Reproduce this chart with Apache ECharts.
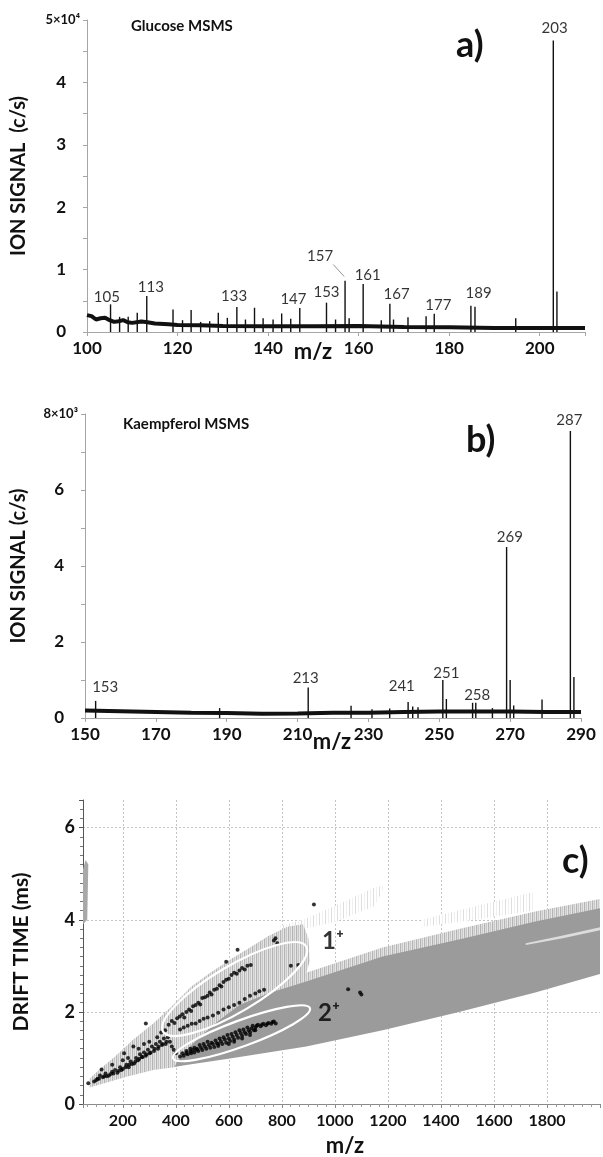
<!DOCTYPE html>
<html>
<head>
<meta charset="utf-8">
<script src="https://cdn.jsdelivr.net/npm/echarts@6/dist/echarts.min.js"></script>
<style>
html, body { margin: 0; padding: 0; background: #fff; }
#chart { width: 603px; height: 1157px; }
</style>
</head>
<body>
<div id="chart"></div>
<script>
// ---------- a) Glucose MSMS ----------
var glucosePeaks = [
  [105.2, 4430], [107.2, 2430], [109.1, 2430], [111.1, 3080], [113.2, 5780],
  [119.0, 3620], [121.1, 1900], [123.0, 3510], [125.1, 1620], [127.1, 1730],
  [129.0, 3080], [131.0, 2270], [133.1, 4000], [135.0, 2000], [137.0, 3890],
  [138.9, 2220], [141.1, 2000], [143.0, 2970], [145.0, 2110], [147.0, 3840],
  [152.9, 4700], [154.9, 2000], [157.0, 8220], [157.9, 2200], [161.0, 7680],
  [165.0, 1900], [166.9, 4540], [167.7, 2000], [170.9, 2380], [174.9, 2540],
  [176.7, 2920], [184.8, 4220], [185.7, 4050], [194.7, 2220], [203.0, 46700],
  [203.8, 6490]
];
var glucoseBase = [
  [100, 2700], [101, 2540], [102, 2000], [103, 2200], [104, 2300], [105, 1900],
  [106, 1620], [107, 1730], [108, 1900], [109, 1570], [110, 1460], [112, 1680],
  [113, 1600], [115, 1350], [118, 1240], [120, 1130], [125, 1080], [130, 970],
  [140, 920], [150, 920], [160, 970], [170, 810], [180, 760], [190, 650],
  [200, 650], [210, 650]
];
var glucoseTags = [
  [104.4, 5570, '105'], [114.1, 7140, '113'], [132.5, 5780, '133'],
  [145.6, 5240, '147'], [152.9, 6320, '153'], [151.5, 12160, '157'],
  [162.0, 9030, '161'], [168.4, 6110, '167'], [177.6, 4320, '177'],
  [186.5, 6220, '189'], [203.3, 48700, '203']
];
var glucoseLeader = [[154.4, 10810, 156.8, 8900]];

// ---------- b) Kaempferol MSMS ----------
var kaempPeaks = [
  [153.0, 450], [188.0, 260], [213.0, 800], [225.1, 320], [231.0, 230],
  [236.0, 250], [241.2, 420], [242.5, 300], [244.0, 280], [251.0, 1000],
  [252.0, 500], [259.4, 400], [260.3, 400], [265.0, 260], [269.0, 4500],
  [270.0, 1000], [271.0, 330], [279.0, 490], [287.0, 7550], [288.0, 1080]
];
var kaempBase = [
  [150, 200], [160, 180], [170, 160], [180, 140], [190, 130], [200, 110],
  [210, 120], [220, 140], [230, 140], [240, 160], [250, 170], [260, 170],
  [270, 170], [280, 160], [290, 160]
];
var kaempTags = [
  [155.7, 820, '153'], [212.3, 1050, '213'], [239.4, 850, '241'],
  [252.0, 1180, '251'], [260.7, 600, '258'], [269.9, 4760, '269'],
  [286.7, 7850, '287']
];

// ---------- c) drift time vs m/z ----------
var band1plus = [
  [75, 0.36], [214, 0.59], [315, 0.74], [395, 0.8], [500, 0.95], [600, 1.3],
  [700, 1.8], [800, 2.3], [880, 2.6], [905, 3.1], [900, 3.6], [880, 3.9],
  [820, 3.85], [748, 3.64], [680, 3.4], [604, 3.13], [530, 2.85], [459, 2.55],
  [390, 2.15], [315, 1.75], [240, 1.4], [171, 1.03], [110, 0.74], [75, 0.55]
];
var band2halo = [
  [700, 2.3], [892, 2.85], [1180, 3.4], [1468, 3.8], [1756, 4.18], [2000, 4.45],
  [2000, 4.0], [1756, 3.7], [1468, 3.3], [1180, 2.9], [892, 2.4], [700, 2.1]
];
var band2plus = [
  [395, 0.81], [604, 0.99], [892, 1.25], [1180, 1.6], [1468, 2.0], [1756, 2.42],
  [2000, 2.82], [2000, 4.25], [1756, 3.96], [1468, 3.57], [1180, 3.2], [892, 2.66],
  [748, 2.4], [640, 2.15], [560, 1.8], [480, 1.4], [420, 1.05]
];
var bandGap = [
  [1720, 3.45], [1860, 3.6], [2000, 3.77], [2000, 3.84], [1860, 3.66], [1720, 3.49]
];
var faintStreaks1 = [
  [780, 3.85], [880, 4.0], [1000, 4.3], [1150, 4.7], [1190, 4.75],
  [1150, 4.3], [1000, 3.95], [860, 3.78]
];
var faintStreaks2 = [
  [1330, 4.0], [1500, 4.25], [1750, 4.6], [1750, 4.2], [1500, 3.98], [1330, 3.85]
];
var edgeBlob = [[50, 3.9], [66, 4.0], [70, 5.2], [60, 5.3], [50, 5.1]];

var dotsLow = [
  [70, 0.45], [92, 0.49], [105, 0.55], [114, 0.62], [125, 0.58], [135, 0.66],
  [148, 0.62], [160, 0.7], [171, 0.74], [180, 0.68], [190, 0.8], [200, 0.76],
  [214, 0.85], [222, 0.8], [230, 0.92], [243, 0.88], [250, 1.0], [258, 0.95],
  [265, 1.08], [272, 1.02], [280, 1.12], [287, 1.05], [295, 1.18], [302, 1.1],
  [310, 1.25], [318, 1.15], [325, 1.3], [333, 1.2], [340, 1.35], [348, 1.28],
  [355, 1.42], [362, 1.3], [370, 1.45], [378, 1.35], [385, 1.25], [392, 1.18],
  [400, 1.1], [287, 1.75], [240, 1.25], [205, 1.1], [160, 0.85], [120, 0.75],
  [100, 0.52], [110, 0.55], [130, 0.6], [140, 0.6], [155, 0.65], [165, 0.66],
  [185, 0.72], [195, 0.74], [210, 0.8], [225, 0.85], [235, 0.87], [248, 0.92],
  [262, 0.98], [275, 1.02], [290, 1.08], [305, 1.12], [320, 1.2], [335, 1.25],
  [350, 1.3], [365, 1.35], [300, 1.35], [330, 1.45], [345, 1.55], [360, 1.6],
  [260, 1.2], [280, 1.3], [220, 1.0], [200, 0.95]
];
var dots1plus = [
  [373, 1.72], [385, 1.8], [395, 1.76], [405, 1.86], [415, 1.9], [425, 1.95],
  [432, 1.88], [440, 2.0], [450, 2.05], [458, 2.02], [465, 2.12], [475, 2.15],
  [485, 2.2], [492, 2.16], [500, 2.3], [510, 2.32], [520, 2.35], [528, 2.42],
  [535, 2.38], [545, 2.48], [555, 2.5], [565, 2.58], [572, 2.55], [580, 2.65],
  [590, 2.7], [600, 2.72], [610, 2.8], [620, 2.85], [630, 2.83], [640, 2.9],
  [650, 2.95], [660, 2.92], [670, 3.0], [683, 3.02],
  [416, 1.62], [430, 1.66], [445, 1.7], [460, 1.74], [475, 1.75], [490, 1.8],
  [505, 1.85], [520, 1.88], [540, 1.92], [560, 1.98], [580, 2.05], [600, 2.1],
  [620, 2.15], [640, 2.2], [660, 2.28], [680, 2.35], [700, 2.4], [715, 2.45],
  [733, 2.48],
  [590, 3.09], [633, 3.35], [776, 3.6], [783, 3.49], [770, 3.55], [834, 3.0],
  [862, 3.02], [921, 4.33], [1050, 2.49], [1100, 2.38], [1095, 2.42]
];
var dots2plus = [
  [416, 1.03], [430, 1.05], [445, 1.08], [458, 1.1], [470, 1.12], [485, 1.15],
  [500, 1.17], [515, 1.2], [530, 1.22], [545, 1.24], [560, 1.26], [575, 1.3],
  [590, 1.33], [605, 1.37], [620, 1.4], [635, 1.44], [650, 1.48], [665, 1.52],
  [680, 1.56], [695, 1.6],
  [440, 1.15], [455, 1.2], [470, 1.22], [490, 1.28], [505, 1.3], [520, 1.35],
  [535, 1.33], [550, 1.38], [565, 1.42], [580, 1.45], [595, 1.5], [610, 1.52],
  [625, 1.56], [640, 1.6], [655, 1.62], [670, 1.66], [690, 1.7], [710, 1.72],
  [730, 1.74], [750, 1.76], [765, 1.78], [777, 1.75],
  [480, 1.2], [525, 1.28], [570, 1.36], [615, 1.46], [660, 1.56], [700, 1.66],
  [720, 1.69], [740, 1.71],
  [425, 1.1], [440, 1.1], [455, 1.14], [465, 1.17], [478, 1.18], [495, 1.22],
  [510, 1.25], [540, 1.3], [555, 1.32], [585, 1.4], [600, 1.42], [630, 1.5],
  [645, 1.54], [675, 1.6], [685, 1.64], [705, 1.7], [725, 1.72], [745, 1.74],
  [760, 1.74], [770, 1.79], [600, 1.3], [620, 1.35], [560, 1.3], [650, 1.42],
  [680, 1.5], [700, 1.6]
];
var chargeRings = [[352, 1.57, 892, 3.42], [390, 0.99, 906, 2.08]];
var chargeTags = [[993, 3.53, '1⁺'], [978, 1.97, '2⁺']];

// ---------- helpers ----------
var FONT = 'Lato';
var chart = echarts.init(document.getElementById('chart'));

var streak = document.createElement('canvas');
streak.width = 4; streak.height = 2;
var sc = streak.getContext('2d');
['#b4b4b4', '#dcdcdc', '#c8c8c8', '#e6e6e6'].forEach(function (c, i) {
  sc.fillStyle = c; sc.fillRect(i, 0, 1, 2);
});
var faint = document.createElement('canvas');
faint.width = 6; faint.height = 2;
var fc = faint.getContext('2d');
fc.fillStyle = '#ffffff'; fc.fillRect(0, 0, 6, 2);
fc.fillStyle = '#dedede'; fc.fillRect(1, 0, 1, 2);
fc.fillStyle = '#f0f0f0'; fc.fillRect(4, 0, 1, 2);

function sticks(idx, data) {
  return {
    type: 'custom', xAxisIndex: idx, yAxisIndex: idx, silent: true, z: 3,
    data: data,
    renderItem: function (params, api) {
      var top = api.coord([api.value(0), api.value(1)]);
      var bot = api.coord([api.value(0), 0]);
      return {
        type: 'line',
        shape: { x1: top[0], y1: top[1], x2: bot[0], y2: bot[1] },
        style: { stroke: '#111', lineWidth: 1.4 }
      };
    }
  };
}
function baseline(idx, data) {
  return {
    type: 'line', xAxisIndex: idx, yAxisIndex: idx, data: data, silent: true,
    showSymbol: false, z: 4,
    lineStyle: { color: '#111', width: 4 }
  };
}
function tags(idx, data, size) {
  return {
    type: 'scatter', xAxisIndex: idx, yAxisIndex: idx, silent: true,
    symbolSize: 0, z: 6,
    data: data.map(function (t) { return { value: [t[0], t[1]], name: t[2] }; }),
    label: {
      show: true, position: 'inside', formatter: '{b}',
      color: '#000', fontSize: size, fontFamily: FONT
    }
  };
}
function poly(points, fill) {
  return {
    type: 'custom', xAxisIndex: 2, yAxisIndex: 2, silent: true, z: 1,
    data: [points[0]],
    renderItem: function (params, api) {
      return {
        type: 'polygon',
        shape: { points: points.map(function (p) { return api.coord(p); }) },
        style: { fill: fill, stroke: null }
      };
    }
  };
}

function valueAxis(grid, min, max, interval, fmt, opts) {
  var ax = {
    type: 'value', gridIndex: grid, min: min, max: max, interval: interval,
    axisLine: { show: true, lineStyle: { color: '#a6a6a6', width: 1 } },
    axisTick: { show: true, length: 4, lineStyle: { color: '#a6a6a6' } },
    splitLine: { show: false },
    axisLabel: {
      formatter: fmt, color: '#111', fontFamily: FONT, fontWeight: 'bold',
      fontSize: 17, margin: 8
    }
  };
  return Object.assign(ax, opts || {});
}

var option = {
  animation: false,
  backgroundColor: '#fff',
  textStyle: { fontFamily: FONT },
  grid: [
    { left: 87, top: 20, width: 498, height: 312 },
    { left: 85, top: 414, width: 496, height: 304 },
    { left: 83, top: 800, right: 0, height: 304 }
  ],
  xAxis: [
    valueAxis(0, 100, 210, 20, function (v) { return v > 200 ? '' : String(v); }),
    valueAxis(1, 150, 290, 20, function (v) { return String(v); }),
    {
      type: 'value', gridIndex: 2, min: 50, max: 2000, splitNumber: 10,
      axisLine: { show: true, lineStyle: { color: '#8a8a8a', width: 1 } },
      axisTick: { show: true, length: 4, lineStyle: { color: '#8a8a8a' } },
      minorTick: { show: true, splitNumber: 6, length: 3, lineStyle: { color: '#9a9a9a' } },
      splitLine: {
        show: true, showMinLine: false, showMaxLine: false,
        lineStyle: { color: '#c4c4c4', type: [2, 2], width: 1 }
      },
      axisLabel: {
        formatter: function (v) { return (v < 200 || v > 1800) ? '' : String(v); },
        color: '#111', fontFamily: FONT, fontWeight: 'bold', fontSize: 16, margin: 9
      }
    }
  ],
  yAxis: [
    valueAxis(0, 0, 50000, 5000, function (v) {
      if (v === 50000) return '{s|5×10⁴}';
      return v % 10000 === 0 ? '{d|' + (v / 10000) + '}' : '';
    }, {
      name: 'ION SIGNAL  (c/s)', nameLocation: 'middle', nameGap: 58,
      nameTextStyle: { fontSize: 20, fontWeight: 'bold', color: '#111', fontFamily: FONT }
    }),
    valueAxis(1, 0, 8000, 1000, function (v) {
      if (v === 8000) return '{s|8×10³}';
      return v % 2000 === 0 ? '{d|' + (v / 1000) + '}' : '';
    }, {
      name: 'ION SIGNAL (c/s)', nameLocation: 'middle', nameGap: 56,
      nameTextStyle: { fontSize: 20, fontWeight: 'bold', color: '#111', fontFamily: FONT }
    }),
    {
      type: 'value', gridIndex: 2, min: 0, max: 6.6, interval: 2,
      name: 'DRIFT TIME (ms)', nameLocation: 'middle', nameGap: 51,
      nameTextStyle: { fontSize: 21, fontWeight: 'bold', color: '#111', fontFamily: FONT },
      axisLine: { show: true, lineStyle: { color: '#555', width: 1 } },
      axisTick: { show: true, length: 4, lineStyle: { color: '#555' } },
      minorTick: { show: true, splitNumber: 10, length: 3, lineStyle: { color: '#777' } },
      splitLine: {
        show: true, showMinLine: false, showMaxLine: false,
        lineStyle: { color: '#c4c4c4', type: [2, 2], width: 1 }
      },
      axisLabel: {
        formatter: function (v) { return v > 6 ? '' : String(v); },
        color: '#111', fontFamily: FONT, fontWeight: 'bold', fontSize: 18, margin: 8
      }
    }
  ],
  graphic: [
    { type: 'text', left: 131, top: 19, style: { text: 'Glucose MSMS', font: 'bold 15px Lato', fill: '#111' } },
    { type: 'text', left: 456, top: 27, style: { text: 'a)', font: 'bold 36px Lato', fill: '#111' } },
    { type: 'text', left: 123, top: 417, style: { text: 'Kaempferol MSMS', font: 'bold 15px Lato', fill: '#111' } },
    { type: 'text', left: 466, top: 422, style: { text: 'b)', font: 'bold 36px Lato', fill: '#111' } },
    { type: 'text', left: 562, top: 843, style: { text: 'c)', font: 'bold 36px Lato', fill: '#111' } },
    { type: 'text', x: 313, y: 352, style: { text: 'm/z', font: 'bold 22px Lato', fill: '#111', align: 'center', verticalAlign: 'middle' } },
    { type: 'text', x: 332, y: 742, style: { text: 'm/z', font: 'bold 22px Lato', fill: '#111', align: 'center', verticalAlign: 'middle' } },
    { type: 'text', x: 345, y: 1146, style: { text: 'm/z', font: 'bold 22px Lato', fill: '#111', align: 'center', verticalAlign: 'middle' } }
  ],
  series: [
    sticks(0, glucosePeaks),
    baseline(0, glucoseBase),
    tags(0, glucoseTags, 15),
    {
      type: 'custom', xAxisIndex: 0, yAxisIndex: 0, silent: true, z: 5,
      data: glucoseLeader,
      renderItem: function (params, api) {
        var a = api.coord([api.value(0), api.value(1)]);
        var b = api.coord([api.value(2), api.value(3)]);
        return { type: 'line', shape: { x1: a[0], y1: a[1], x2: b[0], y2: b[1] }, style: { stroke: '#777', lineWidth: 0.8 } };
      }
    },
    sticks(1, kaempPeaks),
    baseline(1, kaempBase),
    tags(1, kaempTags, 15),

    poly(faintStreaks1, { image: faint, repeat: 'repeat' }),
    poly(faintStreaks2, { image: faint, repeat: 'repeat' }),
    poly(band1plus, { image: streak, repeat: 'repeat' }),
    poly(band2halo, { image: streak, repeat: 'repeat' }),
    poly(band2plus, '#9b9b9b'),
    poly(bandGap, '#dcdcdc'),
    poly(edgeBlob, '#a8a8a8'),
    {
      type: 'scatter', xAxisIndex: 2, yAxisIndex: 2, silent: true, z: 3,
      symbolSize: 4, itemStyle: { color: '#000' },
      data: dotsLow.concat(dots1plus, dots2plus)
    },
    {
      type: 'custom', xAxisIndex: 2, yAxisIndex: 2, silent: true, z: 4,
      data: chargeRings,
      renderItem: function (params, api) {
        var p1 = api.coord([api.value(0), api.value(1)]);
        var p2 = api.coord([api.value(2), api.value(3)]);
        var dx = p2[0] - p1[0], dy = p2[1] - p1[1];
        var half = Math.sqrt(dx * dx + dy * dy) / 2;
        var thick = params.dataIndex === 0 ? 23 : 13;
        return {
          type: 'ellipse',
          x: (p1[0] + p2[0]) / 2, y: (p1[1] + p2[1]) / 2,
          rotation: -Math.atan2(dy, dx),
          shape: { cx: 0, cy: 0, rx: half, ry: thick },
          style: { fill: null, stroke: '#fff', lineWidth: 2.2 }
        };
      }
    },
    {
      type: 'scatter', xAxisIndex: 2, yAxisIndex: 2, silent: true, symbolSize: 0, z: 6,
      data: chargeTags.map(function (t) { return { value: [t[0], t[1]], name: t[2] }; }),
      label: { show: true, position: 'inside', formatter: '{b}', color: '#000', fontSize: 24, fontWeight: 'bold', fontFamily: FONT }
    }
  ]
};

// label rich styles for the intensity axes
[0, 1].forEach(function (i) {
  option.yAxis[i].axisLabel.margin = 7;
  option.yAxis[i].axisLabel.rich = {
    s: { fontSize: 13, fontWeight: 'bold', fontFamily: FONT, color: '#111' },
    d: { fontSize: 17, fontWeight: 'bold', fontFamily: FONT, color: '#111', padding: [0, 14, 0, 0] }
  };
});

chart.setOption(option);
</script>
</body>
</html>
